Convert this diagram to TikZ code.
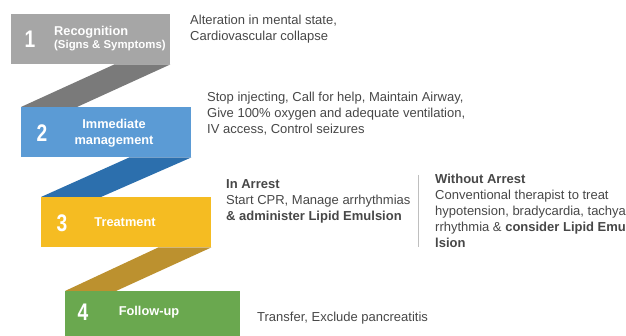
\documentclass[tikz,border=0pt]{standalone}
\usepackage{fontspec}
\setmainfont{Liberation Sans}
\usetikzlibrary{calc}
\definecolor{gbox}{HTML}{A6A6A6}
\definecolor{grib}{HTML}{7A7A7A}
\definecolor{bbox}{HTML}{5B9BD5}
\definecolor{brib}{HTML}{2C6FAD}
\definecolor{ybox}{HTML}{F5BC22}
\definecolor{yrib}{HTML}{BC912F}
\definecolor{gnbox}{HTML}{6AA84F}
\definecolor{txt}{HTML}{474747}
\definecolor{divc}{HTML}{BFBFBF}
\tikzset{
  stepbox/.style={rectangle, inner sep=0pt, anchor=north west, minimum height=50pt},
  num/.style={text=white, font=\fontsize{24}{24}\selectfont\bfseries, inner sep=0pt, xscale=0.8},
  title/.style={text=white, font=\fontsize{12.8}{16}\selectfont\bfseries, inner sep=0pt, align=center},
  desc/.style={text=txt, font=\fontsize{13}{16}\selectfont, inner sep=0pt, align=left, anchor=west},
}
\begin{document}
\begin{tikzpicture}[x=1pt, y=-1pt]
\useasboundingbox (0,0) rectangle (626,336);
% boxes
\node[stepbox, fill=gbox, minimum width=159pt] (b1) at (11,14) {};
\node[stepbox, fill=bbox, minimum width=170pt] (b2) at (21,107) {};
\node[stepbox, fill=ybox, minimum width=170pt] (b3) at (41,197) {};
\node[stepbox, fill=gnbox, minimum width=175pt, minimum height=46pt] (b4) at (65,291) {};
% ribbons
\fill[grib] (b1.south east) -- ($(b1.south east)+(-56,0)$) -- (b2.north west) -- ($(b2.north west)+(56,0)$) -- cycle;
\fill[brib] (b2.south east) -- ($(b2.south east)+(-62,0)$) -- (b3.north west) -- ($(b3.north west)+(60,0)$) -- cycle;
\fill[yrib] (b3.south east) -- ($(b3.south east)+(-53,0)$) -- (b4.north west) -- ($(b4.north west)+(51,0)$) -- cycle;
% numbers
\node[num] (n1) at (30,39) {1};
\node[num] (n2) at (42,133) {2};
\node[num] (n3) at (62,223) {3};
\node[num] (n4) at (83,312) {4};
% titles
\node[title, anchor=west] (t1a) at (54,32) {Recognition};
\node[title, anchor=west, font=\fontsize{11.4}{14}\selectfont\bfseries] (t1b) at (54,46) {(Signs \& Symptoms)};
\node[title] (t2) at (114,133) {Immediate\\management};
\node[title] (t3) at (125,222) {Treatment};
\node[title] (t4) at (149,312) {Follow-up};
% descriptions
\node[desc] (d1) at (190,29) {Alteration in mental state,\\Cardiovascular collapse};
\node[desc] (d2) at (207,114) {Stop injecting, Call for help, Maintain Airway,\\Give 100\% oxygen and adequate ventilation,\\IV access, Control seizures};
\node[desc] (d3) at (226,201) {\textbf{In Arrest}\\Start CPR, Manage arrhythmias\\\textbf{\& administer Lipid Emulsion}};
\node[desc] (d3b) at (435,210.5) {\textbf{Without Arrest}\\Conventional therapist to treat\\hypotension, bradycardia, tachya\\rrhythmia \& \textbf{consider Lipid Emu}\\\textbf{lsion}};
\coordinate (dv1) at (418,175);
\coordinate (dv2) at (418,247);
\draw[divc, line width=0.9pt] (dv1) -- (dv2);
\node[desc] (d4) at (257,318) {Transfer, Exclude pancreatitis};
\end{tikzpicture}
\end{document}
